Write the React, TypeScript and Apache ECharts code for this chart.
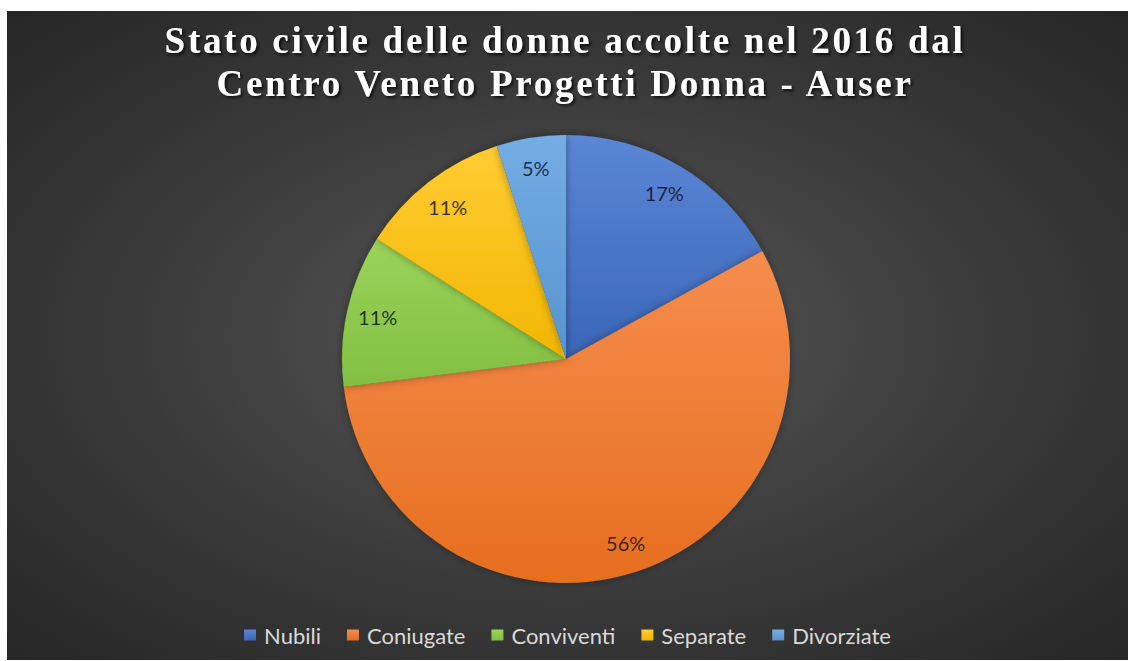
import React, { useEffect, useRef } from "react";
import * as echarts from "echarts";

const categories = ["Nubili", "Coniugate", "Conviventi", "Separate", "Divorziate"];
const values = [17, 56, 11, 11, 5];
const topColors = ["#5b86d6", "#f58d4e", "#9ad35a", "#ffcc33", "#74ade3"];
const bottomColors = ["#3b66b8", "#e66e1e", "#82bf41", "#f2b600", "#5693cf"];
const titleLines = ["Stato civile delle donne accolte nel 2016 dal", "Centro Veneto Progetti Donna - Auser"];

export default function App() {
  const ref = useRef<HTMLDivElement>(null);
  useEffect(() => {
    document.body.style.margin = "0";
    document.body.style.background = "#ffffff";
    const chart = echarts.init(ref.current!, null, { renderer: "svg" });
    const data = categories.map((name, i) => ({
      name,
      value: values[i],
      itemStyle: {
        color: new echarts.graphic.LinearGradient(0, 0, 0, 1, [
          { offset: 0, color: topColors[i] },
          { offset: 1, color: bottomColors[i] },
        ]),
      },
    }));
    const titleStyle = {
      fontFamily: "Liberation Serif",
      fontWeight: "bold",
      fontSize: 37,
      fill: "#ffffff",
      textAlign: "center",
      textVerticalAlign: "middle",
      textShadowColor: "rgba(0,0,0,0.75)",
      textShadowBlur: 3,
      textShadowOffsetX: 2,
      textShadowOffsetY: 2,
    };
    chart.setOption({
      animation: false,
      graphic: titleLines.map((t, i) => ({
        type: "text",
        x: 558,
        y: 29 + i * 43,
        silent: true,
        style: { ...titleStyle, text: t },
      })),
      legend: {
        data: categories,
        top: 608,
        left: "center",
        icon: "rect",
        itemWidth: 12,
        itemHeight: 11,
        itemGap: 26,
        textStyle: { fontFamily: "Lato", fontSize: 22, color: "#d9d9d9", padding: [0, 0, 0, 3] },
      },
      series: [
        {
          type: "pie",
          center: [559, 348],
          radius: [0, 224],
          startAngle: 90,
          clockwise: true,
          data,
          label: { show: false },
          labelLine: { show: false },
          itemStyle: { shadowColor: "rgba(0,0,0,0.35)", shadowBlur: 8 },
          emphasis: { disabled: true },
        },
        {
          type: "pie",
          center: [559, 348],
          radius: [156, 224],
          startAngle: 90,
          clockwise: true,
          silent: true,
          data: categories.map((name, i) => ({ name, value: values[i] })),
          itemStyle: { color: "rgba(0,0,0,0)" },
          label: {
            show: true,
            position: "inside",
            formatter: (p: any) => p.value + "%",
            fontFamily: "Lato",
            fontSize: 20,
            color: "rgba(10,14,24,0.82)",
          },
          labelLine: { show: false },
          emphasis: { disabled: true },
        },
      ],
    });
    return () => chart.dispose();
  }, []);
  return (
    <div
      style={{
        position: "absolute",
        left: 7,
        top: 11,
        width: 1121,
        height: 649,
        background: "radial-gradient(ellipse farthest-corner at 50% 50%, #585858 0%, #3a3a3a 55%, #262626 100%)",
      }}
    >
      <style>{`text[style*="Liberation Serif"], text[font-family*="Liberation Serif"] { letter-spacing: 2.7px; }`}</style>
      <div ref={ref} style={{ width: 1121, height: 649 }} />
    </div>
  );
}
